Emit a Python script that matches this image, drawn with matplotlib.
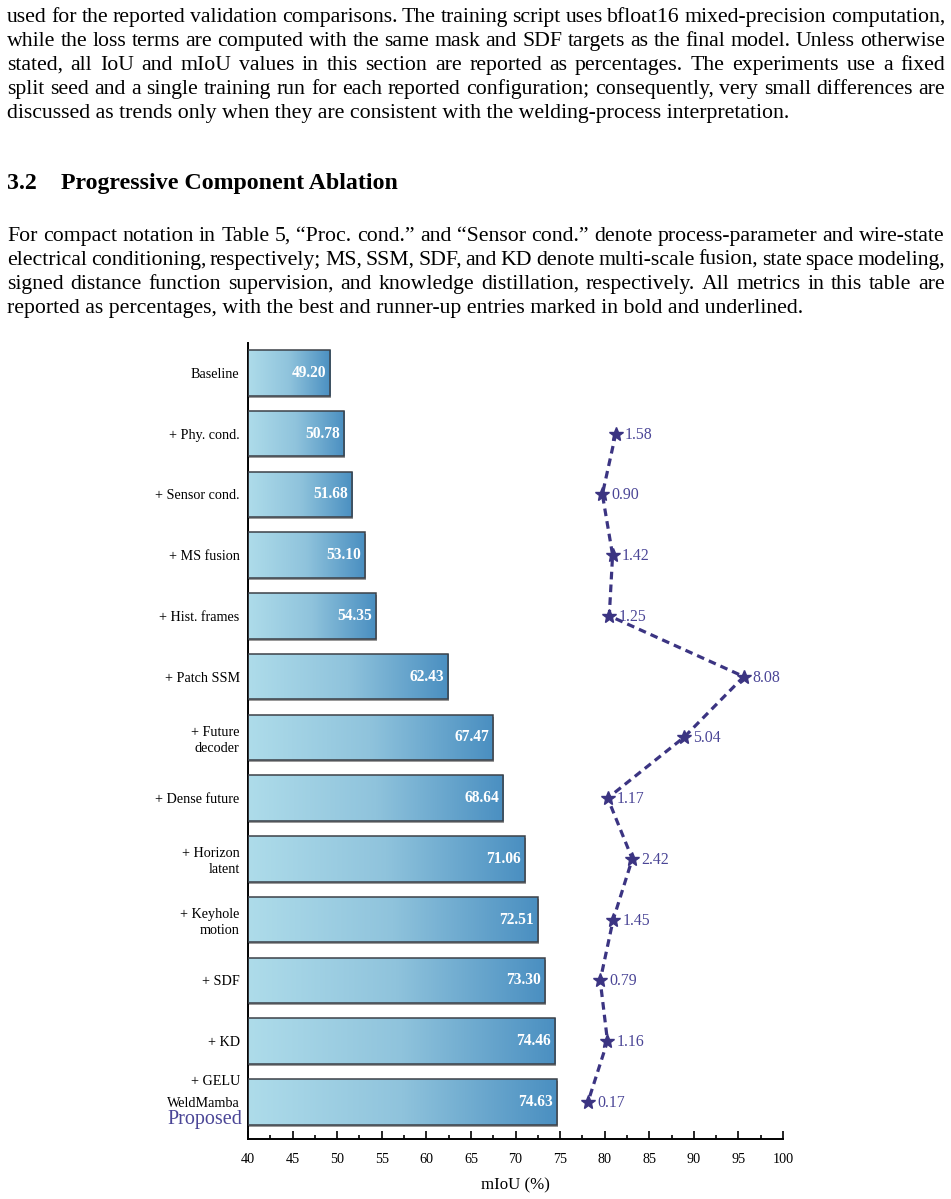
import numpy as np
import matplotlib
matplotlib.use("Agg")
import matplotlib.pyplot as plt
from matplotlib.colors import LinearSegmentedColormap
from matplotlib.transforms import blended_transform_factory, offset_copy

# ---------------- data ----------------
labels = ["Baseline", "+ Phy. cond.", "+ Sensor cond.", "+ MS fusion", "+ Hist. frames",
          "+ Patch SSM", "+ Future\ndecoder", "+ Dense future", "+ Horizon\nlatent",
          "+ Keyhole\nmotion", "+ SDF", "+ KD", "WeldMamba"]
miou = [49.20, 50.78, 51.68, 53.10, 54.35, 62.43, 67.47, 68.64, 71.06, 72.51, 73.30, 74.46, 74.63]
gain_rows = [1, 2, 3, 4, 5, 6, 7, 8, 9, 10, 11, 12]
gains = [1.58, 0.90, 1.42, 1.25, 8.08, 5.04, 1.17, 2.42, 1.45, 0.79, 1.16, 0.17]
xticks = [40, 45, 50, 55, 60, 65, 70, 75, 80, 85, 90, 95, 100]

para1 = [
    "used for the reported validation comparisons. The training script uses bfloat16 mixed-precision computation,",
    "while the loss terms are computed with the same mask and SDF targets as the final model. Unless otherwise",
    "stated, all IoU and mIoU values in this section are reported as percentages. The experiments use a fixed",
    "split seed and a single training run for each reported configuration; consequently, very small differences are",
    "discussed as trends only when they are consistent with the welding-process interpretation.",
]
heading_num = "3.2"
heading_txt = "Progressive Component Ablation"
para2 = [
    "For compact notation in Table 5, \u201cProc. cond.\u201d and \u201cSensor cond.\u201d denote process-parameter and wire-state",
    "electrical conditioning, respectively; MS, SSM, SDF, and KD denote multi-scale fusion, state space modeling,",
    "signed distance function supervision, and knowledge distillation, respectively. All metrics in this table are",
    "reported as percentages, with the best and runner-up entries marked in bold and underlined.",
]

SERIF = "Liberation Serif"
plt.rcParams["font.family"] = [SERIF, "DejaVu Serif"]

W, H = 951, 1199
fig = plt.figure(figsize=(W / 100, H / 100), dpi=100)
renderer = fig.canvas.get_renderer()


def fx(px):
    return px / W


def fy(py):
    return 1 - py / H


def text_line(line, x0, x1, ybase, size, justify=True, **kw):
    if not justify:
        fig.text(fx(x0), fy(ybase), line, fontsize=size, va="baseline", ha="left", **kw)
        return
    words = line.split()
    ts = [fig.text(0, fy(ybase), w, fontsize=size, va="baseline", ha="left", **kw) for w in words]
    widths = [t.get_window_extent(renderer).width for t in ts]
    gap = (x1 - x0 - sum(widths)) / (len(words) - 1)
    x = x0
    for t, w in zip(ts, widths):
        t.set_x(fx(x))
        x += w + gap


BODY = 15.7
L, R = 7, 945
for i, line in enumerate(para1):
    text_line(line, L, R, 22 + 24 * i, BODY, justify=(i < len(para1) - 1))

fig.text(fx(L), fy(189), heading_num, fontsize=17.2, fontweight="bold", va="baseline")
fig.text(fx(61), fy(189), heading_txt, fontsize=17.2, fontweight="bold", va="baseline")

for i, line in enumerate(para2):
    text_line(line, L, R, 241 + 24 * i, BODY, justify=(i < len(para2) - 1))

# ---------------- chart ----------------
ax_l, ax_r, ax_t, ax_b = 248, 783, 343, 1139
ax = fig.add_axes([fx(ax_l), fy(ax_b), fx(ax_r - ax_l), (ax_b - ax_t) / H])

n = len(labels)
ypos = np.arange(n)
XMIN, XMAX = 40, 100
bar_h = 0.75

cmap = LinearSegmentedColormap.from_list("g", ["#aedcea", "#8fc3dc", "#4a8fc1"])
grad = np.linspace(0, 1, 256).reshape(1, -1)

bars = ax.barh(ypos, np.array(miou) - XMIN, left=XMIN, height=bar_h,
               color="none", edgecolor="#3c4148", linewidth=1.1, zorder=3)
for b, v in zip(bars, miou):
    x0, y0 = b.get_x(), b.get_y()
    w, h = b.get_width(), b.get_height()
    shadow = plt.Rectangle((x0, y0), w, h, facecolor="#9a9a9a", edgecolor="none", zorder=1,
                           transform=offset_copy(ax.transData, fig=fig, x=1.0, y=-2.0, units="dots"))
    ax.add_patch(shadow)
    im = ax.imshow(grad, extent=[x0, x0 + w, y0 + h, y0], aspect="auto", cmap=cmap,
                   interpolation="bicubic", zorder=2)
    im.set_clip_path(b)
    ax.annotate(f"{v:.2f}", xy=(v, b.get_y() + h / 2), xytext=(-4, 0), textcoords="offset pixels",
                ha="right", va="center", color="white", fontsize=11.2, fontweight="bold", zorder=5)

ax.set_xlim(XMIN, XMAX)
ax.set_ylim(n - 1 + 0.61, -0.49)
ax.set_yticks(ypos)
ax.set_yticklabels(labels, fontsize=10.2, linespacing=1.3)
ax.set_xticks(xticks)
ax.set_xticks(np.arange(42.5, 100, 5), minor=True)
ax.set_xticklabels([str(t) for t in xticks], fontsize=10.2)
ax.tick_params(axis="y", direction="in", length=5, width=1.8, pad=6, colors="black")
ax.tick_params(axis="x", which="major", direction="in", length=6, width=1.2, pad=10)
ax.tick_params(axis="x", which="minor", direction="in", length=3, width=1.2)
for s in ["top", "right"]:
    ax.spines[s].set_visible(False)
for s in ["left", "bottom"]:
    ax.spines[s].set_linewidth(1.4)
ax.set_xlabel("mIoU (%)", fontsize=12.2, labelpad=8)

# extra lines of the last label
ytr = blended_transform_factory(ax.transAxes, ax.transData)
ax.annotate("+ GELU", xy=(0, n - 1), xycoords=ytr, xytext=(-8, 20), textcoords="offset pixels",
            ha="right", va="center", fontsize=10.2)
ax.annotate("Proposed", xy=(0, n - 1), xycoords=ytr, xytext=(-6, -18), textcoords="offset pixels",
            ha="right", va="center", fontsize=14.5, color="#4a4596")

# gain line on a hidden secondary scale
ax2 = ax.twiny()
ax2.set_xlim(-17.09, 10.07)
ax2.axis("off")
line_c = "#3b3482"
ax2.plot(gains, gain_rows, color=line_c, linestyle=(0, (2.4, 1.6)), linewidth=2.3,
         marker="*", markersize=10, markerfacecolor=line_c, markeredgecolor=line_c, zorder=4)
for g, r in zip(gains, gain_rows):
    ax2.annotate(f"{g:.2f}", xy=(g, r), xytext=(9, -1), textcoords="offset pixels",
                 ha="left", va="center", fontsize=11.4, color="#4a4596")
ax2.set_ylim(n - 1 + 0.61, -0.49)

fig.savefig("out.png", dpi=100)
